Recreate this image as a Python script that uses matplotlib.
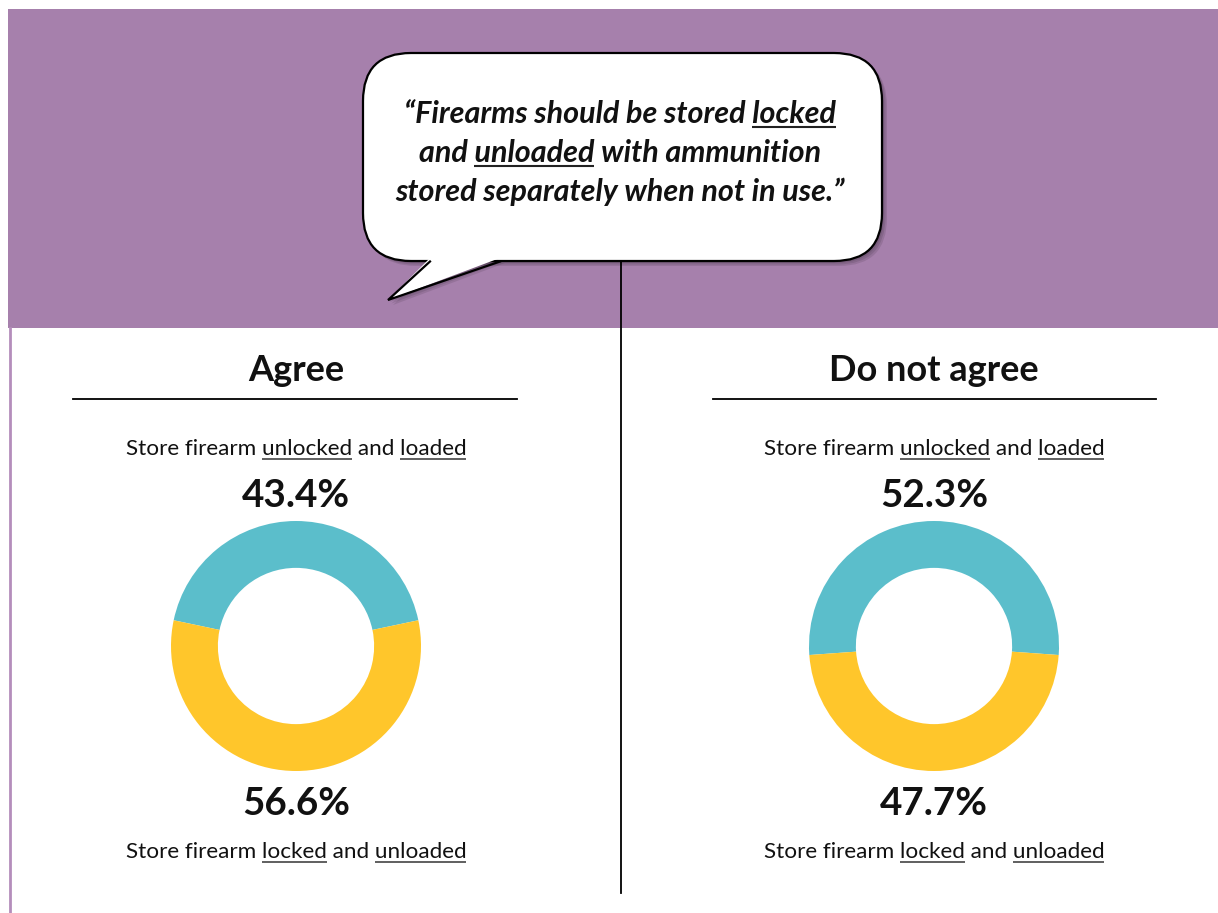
import matplotlib
matplotlib.use("Agg")
import matplotlib.pyplot as plt
from matplotlib.patches import FancyBboxPatch, Polygon, Rectangle
import numpy as np

# data
groups = ["Agree", "Do not agree"]
unlocked_loaded = [43.4, 52.3]
locked_unloaded = [56.6, 47.7]
top_label = [("Store firearm ", False), ("unlocked", True), (" and ", False), ("loaded", True)]
bottom_label = [("Store firearm ", False), ("locked", True), (" and ", False), ("unloaded", True)]
quote_lines = [
    [("\u201cFirearms should be stored ", False), ("locked", True)],
    [("and ", False), ("unloaded", True), (" with ammunition", False)],
    [("stored separately when not in use.\u201d", False)],
]

PURPLE = "#A680AC"
TEAL = "#5BBECB"
YELLOW = "#FFC62B"
W, H = 1218, 913

fig = plt.figure(figsize=(W / 100, H / 100), dpi=100, facecolor="white")
ax = fig.add_axes([0, 0, 1, 1])
ax.set_xlim(0, W)
ax.set_ylim(H, 0)
ax.axis("off")
renderer = fig.canvas.get_renderer()


def text_width(s, **kw):
    # width in pixels, sentinel keeps trailing spaces
    t1 = ax.text(0, 0, s + "|", **kw)
    t2 = ax.text(0, 0, "|", **kw)
    w = t1.get_window_extent(renderer).width - t2.get_window_extent(renderer).width
    t1.remove()
    t2.remove()
    return w


def underlined_text(xc, y, parts, ul_off=4, ul_lw=1.2, ul_color="#444444", **kw):
    full = "".join(p for p, _ in parts)
    ax.text(xc, y, full, ha="center", va="baseline", **kw)
    total = text_width(full, **kw)
    x0 = xc - total / 2
    pos = 0
    for p, ul in parts:
        w = text_width(p, **kw)
        if ul:
            ax.plot([x0 + pos, x0 + pos + w], [y + ul_off, y + ul_off],
                    color=ul_color, lw=ul_lw, solid_capstyle="butt", zorder=6)
        pos += w


# header band and left border
ax.add_patch(Rectangle((8, 9), W - 8, 319, facecolor=PURPLE, edgecolor="none", zorder=0))
ax.plot([9.5, 9.5], [328, H], color="#B48DBB", lw=2, zorder=1)

# center divider
ax.plot([621, 621], [262, 893], color="black", lw=1.3, zorder=1)

# speech bubble
bx0, by0, bx1, by1 = 363, 53, 882, 261
tail = [(430, by1 - 3), (388, 300), (500, by1 - 3)]
for k, a in enumerate([0.10, 0.10, 0.10]):
    off = 2 + k * 1.5
    ax.add_patch(FancyBboxPatch((bx0 + off, by0 + off), bx1 - bx0, by1 - by0,
                                boxstyle="round,pad=0,rounding_size=48",
                                facecolor="black", edgecolor="none", alpha=a, zorder=2))
    ax.add_patch(Polygon([(x + off, y + off) for x, y in tail], closed=True,
                         facecolor="black", edgecolor="none", alpha=a, zorder=2))
ax.add_patch(FancyBboxPatch((bx0, by0), bx1 - bx0, by1 - by0,
                            boxstyle="round,pad=0,rounding_size=48",
                            facecolor="white", edgecolor="black", lw=1.6, zorder=3))
ax.add_patch(Polygon(tail, closed=True, facecolor="white", edgecolor="none", zorder=4))
ax.plot([tail[0][0], tail[1][0], tail[2][0]], [by1 + 0.5, tail[1][1], by1 + 0.5],
        color="black", lw=1.6, solid_joinstyle="miter", zorder=5)

quote_kw = dict(fontsize=22, fontweight="bold", fontstyle="italic", family="Lato", color="#111111")
for line, yb in zip(quote_lines, [123, 162, 201]):
    underlined_text(620, yb, line, ul_off=4, ul_lw=1.5, ul_color="#222222", **quote_kw)

# panels
centers = [296, 934]
rule_spans = [(73, 517), (713, 1156)]
body_kw = dict(fontsize=16.2, family="Lato", color="#111111")
pct_kw = dict(fontsize=27.8, fontweight="bold", family="Lato", color="#111111")
title_kw = dict(fontsize=26, fontweight="bold", family="Lato", color="#111111")

for i, name in enumerate(groups):
    xc = centers[i]
    ax.text(xc, 381, name, ha="center", va="baseline", **title_kw)
    ax.plot(rule_spans[i], [399, 399], color="black", lw=1.3)
    underlined_text(xc, 455, top_label, ul_off=4, **body_kw)
    ax.text(xc, 507, f"{unlocked_loaded[i]}%", ha="center", va="baseline", **pct_kw)
    ax.text(xc, 815, f"{locked_unloaded[i]}%", ha="center", va="baseline", **pct_kw)
    underlined_text(xc, 858, bottom_label, ul_off=4, **body_kw)

    # donut
    r = 125
    pax = fig.add_axes([(xc - r) / W, 1 - (646 + r) / H, 2 * r / W, 2 * r / H])
    vals = [unlocked_loaded[i], locked_unloaded[i]]
    start = 90 - 360 * vals[0] / sum(vals) / 2
    pax.pie(vals, colors=[TEAL, YELLOW], startangle=start, counterclock=True,
            wedgeprops=dict(width=0.375, edgecolor="none"))
    pax.set_xlim(-1, 1)
    pax.set_ylim(-1, 1)
    pax.set_aspect("equal")
    pax.axis("off")

fig.savefig("out.png", dpi=100, facecolor="white")
